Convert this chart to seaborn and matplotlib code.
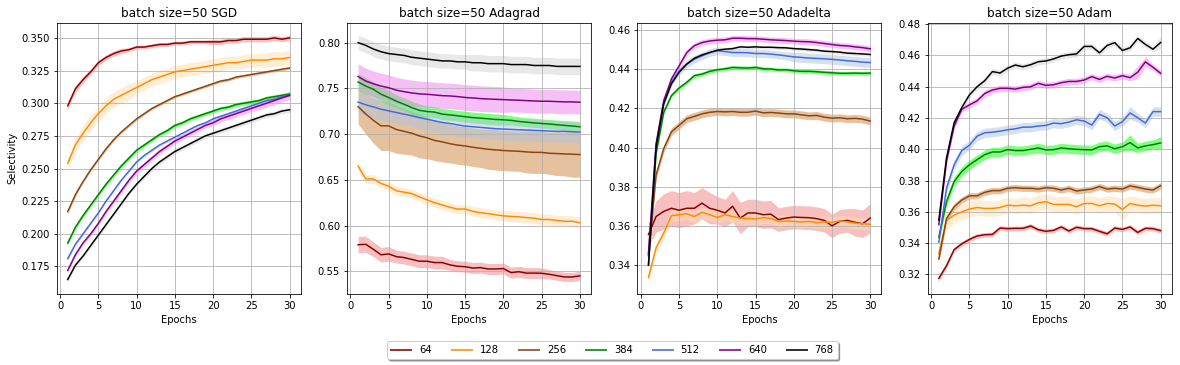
import numpy as np
import pandas as pd
import seaborn as sns
import matplotlib.pyplot as plt
from matplotlib.lines import Line2D

epochs = list(range(1, 31))
batch_labels = ["64", "128", "256", "384", "512", "640", "768"]
optimizers = ["SGD", "Adagrad", "Adadelta", "Adam"]

line_colors = ["darkred", "darkorange", "saddlebrown", "green", "royalblue", "purple", "black"]
band_colors = ["lightcoral", "navajowhite", "peru", "lime", "lightsteelblue", "violet", "lightgray"]

# mean selectivity per epoch, one row per batch label
sgd_mean = [
    [0.298, 0.311, 0.318, 0.324, 0.331, 0.335, 0.338, 0.340, 0.341, 0.343, 0.343, 0.344, 0.345, 0.345, 0.346,
     0.346, 0.347, 0.347, 0.347, 0.347, 0.347, 0.348, 0.348, 0.349, 0.349, 0.349, 0.349, 0.350, 0.349, 0.350],
    [0.254, 0.268, 0.277, 0.285, 0.292, 0.298, 0.303, 0.306, 0.309, 0.312, 0.315, 0.318, 0.320, 0.322, 0.324,
     0.325, 0.326, 0.327, 0.328, 0.329, 0.330, 0.331, 0.331, 0.332, 0.333, 0.333, 0.333, 0.334, 0.334, 0.335],
    [0.217, 0.230, 0.240, 0.249, 0.257, 0.265, 0.272, 0.278, 0.283, 0.288, 0.292, 0.296, 0.299, 0.302, 0.305,
     0.307, 0.309, 0.311, 0.313, 0.315, 0.317, 0.318, 0.320, 0.321, 0.322, 0.323, 0.324, 0.325, 0.326, 0.327],
    [0.193, 0.205, 0.214, 0.222, 0.230, 0.238, 0.245, 0.252, 0.258, 0.264, 0.268, 0.272, 0.276, 0.279, 0.283,
     0.285, 0.288, 0.290, 0.292, 0.294, 0.296, 0.297, 0.299, 0.300, 0.301, 0.302, 0.304, 0.305, 0.306, 0.307],
    [0.181, 0.192, 0.200, 0.208, 0.216, 0.225, 0.233, 0.241, 0.248, 0.255, 0.260, 0.264, 0.268, 0.271, 0.274,
     0.277, 0.280, 0.283, 0.285, 0.288, 0.290, 0.292, 0.294, 0.296, 0.298, 0.300, 0.302, 0.303, 0.305, 0.306],
    [0.172, 0.184, 0.193, 0.200, 0.208, 0.217, 0.225, 0.233, 0.241, 0.248, 0.253, 0.258, 0.263, 0.267, 0.271,
     0.274, 0.277, 0.280, 0.283, 0.285, 0.288, 0.290, 0.292, 0.294, 0.296, 0.298, 0.300, 0.302, 0.304, 0.306],
    [0.165, 0.176, 0.183, 0.191, 0.199, 0.207, 0.215, 0.223, 0.231, 0.238, 0.244, 0.250, 0.255, 0.259, 0.263,
     0.266, 0.269, 0.272, 0.275, 0.277, 0.279, 0.281, 0.283, 0.285, 0.287, 0.289, 0.291, 0.292, 0.294, 0.295],
]
# half width of the shaded band
sgd_band = [
    [0.0025, 0.0025, 0.0025, 0.002, 0.002, 0.002, 0.002, 0.002, 0.0015, 0.0015, 0.0015, 0.0015, 0.0015, 0.0015, 0.0015,
     0.0015, 0.0015, 0.0015, 0.0015, 0.002, 0.002, 0.002, 0.002, 0.002, 0.002, 0.002, 0.002, 0.002, 0.002, 0.002],
    [0.004, 0.005, 0.006, 0.006, 0.006, 0.006, 0.006, 0.006, 0.006, 0.005, 0.005, 0.005, 0.005, 0.005, 0.005,
     0.005, 0.005, 0.005, 0.005, 0.005, 0.005, 0.005, 0.005, 0.005, 0.005, 0.005, 0.0055, 0.0055, 0.0055, 0.0055],
    [0.0015, 0.0015, 0.001, 0.001, 0.001, 0.001, 0.001, 0.001, 0.001, 0.001, 0.001, 0.001, 0.001, 0.001, 0.001,
     0.001, 0.001, 0.001, 0.001, 0.001, 0.001, 0.001, 0.001, 0.001, 0.001, 0.001, 0.001, 0.001, 0.001, 0.001],
    [0.0015, 0.0015, 0.0015, 0.0015, 0.0015, 0.0015, 0.0015, 0.0015, 0.0015, 0.0015, 0.0015, 0.0015, 0.0015, 0.0015, 0.0015,
     0.0015, 0.0015, 0.0015, 0.0015, 0.0015, 0.0015, 0.0015, 0.0015, 0.0015, 0.0015, 0.0015, 0.0015, 0.0015, 0.0015, 0.0015],
    [0.001, 0.001, 0.001, 0.001, 0.001, 0.001, 0.001, 0.001, 0.001, 0.001, 0.001, 0.001, 0.001, 0.001, 0.001,
     0.001, 0.001, 0.001, 0.001, 0.001, 0.001, 0.001, 0.001, 0.001, 0.001, 0.001, 0.001, 0.001, 0.001, 0.001],
    [0.0015, 0.0015, 0.0015, 0.0015, 0.0015, 0.002, 0.002, 0.002, 0.002, 0.002, 0.002, 0.002, 0.002, 0.002, 0.002,
     0.002, 0.002, 0.002, 0.002, 0.002, 0.0025, 0.0025, 0.0025, 0.0025, 0.0025, 0.003, 0.003, 0.003, 0.003, 0.003],
    [0.0015, 0.0015, 0.0015, 0.0015, 0.0015, 0.0015, 0.0015, 0.0015, 0.0015, 0.0015, 0.002, 0.002, 0.002, 0.002, 0.002,
     0.002, 0.002, 0.002, 0.002, 0.002, 0.002, 0.002, 0.002, 0.002, 0.002, 0.002, 0.002, 0.002, 0.002, 0.002],
]

adagrad_mean = [
    [0.579, 0.5795, 0.574, 0.568, 0.569, 0.566, 0.565, 0.563, 0.561, 0.561, 0.5595, 0.5595, 0.557, 0.5555, 0.555,
     0.5535, 0.554, 0.5525, 0.5525, 0.553, 0.5485, 0.5495, 0.548, 0.548, 0.5478, 0.5467, 0.5452, 0.5438, 0.5438, 0.545],
    [0.665, 0.651, 0.651, 0.646, 0.643, 0.638, 0.6365, 0.635, 0.6315, 0.628, 0.625, 0.6225, 0.620, 0.618, 0.618,
     0.6155, 0.614, 0.613, 0.6117, 0.6106, 0.610, 0.6095, 0.6087, 0.608, 0.6066, 0.6066, 0.6055, 0.6047, 0.6047, 0.603],
    [0.730, 0.722, 0.715, 0.709, 0.709, 0.705, 0.703, 0.701, 0.698, 0.696, 0.693, 0.6915, 0.6895, 0.688, 0.687,
     0.6856, 0.6845, 0.6834, 0.6827, 0.682, 0.6816, 0.6812, 0.6805, 0.680, 0.680, 0.679, 0.6787, 0.6783, 0.678, 0.6776],
    [0.757, 0.7525, 0.749, 0.7435, 0.740, 0.736, 0.7326, 0.729, 0.726, 0.7247, 0.724, 0.7218, 0.721, 0.720, 0.719,
     0.718, 0.7174, 0.7167, 0.716, 0.7156, 0.715, 0.7138, 0.713, 0.7123, 0.7116, 0.711, 0.7102, 0.7095, 0.7088, 0.708],
    [0.735, 0.732, 0.7297, 0.7272, 0.7254, 0.7236, 0.7218, 0.720, 0.718, 0.7163, 0.7145, 0.7127, 0.7116, 0.7101, 0.7087,
     0.708, 0.7073, 0.7066, 0.7058, 0.7055, 0.7051, 0.7047, 0.7044, 0.704, 0.7037, 0.7033, 0.703, 0.703, 0.7026, 0.7022],
    [0.763, 0.758, 0.755, 0.7525, 0.7507, 0.748, 0.7464, 0.745, 0.744, 0.7435, 0.7428, 0.742, 0.7417, 0.741, 0.740,
     0.7395, 0.7388, 0.7384, 0.738, 0.7377, 0.7373, 0.737, 0.7366, 0.7362, 0.7359, 0.7359, 0.7355, 0.7352, 0.7352, 0.7348],
    [0.800, 0.797, 0.793, 0.790, 0.788, 0.787, 0.786, 0.784, 0.783, 0.782, 0.781, 0.780, 0.780, 0.779, 0.779,
     0.778, 0.778, 0.777, 0.777, 0.777, 0.776, 0.776, 0.776, 0.775, 0.775, 0.775, 0.774, 0.774, 0.774, 0.774],
]
adagrad_band = [
    [0.009, 0.009, 0.008, 0.008, 0.008, 0.007, 0.007, 0.007, 0.007, 0.007, 0.007, 0.007, 0.006, 0.006, 0.006,
     0.006, 0.006, 0.006, 0.006, 0.006, 0.006, 0.006, 0.006, 0.006, 0.006, 0.005, 0.005, 0.005, 0.005, 0.005],
    [0.005, 0.005, 0.005, 0.005, 0.005, 0.005, 0.005, 0.005, 0.005, 0.005, 0.005, 0.005, 0.005, 0.005, 0.005,
     0.0055, 0.0055, 0.0055, 0.0055, 0.006, 0.006, 0.006, 0.006, 0.006, 0.006, 0.006, 0.006, 0.006, 0.006, 0.006],
    [0.019, 0.022, 0.025, 0.027, 0.027, 0.026, 0.025, 0.024, 0.024, 0.023, 0.022, 0.022, 0.021, 0.021, 0.021,
     0.021, 0.021, 0.022, 0.022, 0.022, 0.022, 0.022, 0.023, 0.023, 0.023, 0.023, 0.024, 0.024, 0.025, 0.025],
    [0.009, 0.009, 0.008, 0.008, 0.008, 0.007, 0.007, 0.007, 0.007, 0.006, 0.006, 0.006, 0.006, 0.006, 0.006,
     0.006, 0.006, 0.006, 0.006, 0.006, 0.005, 0.005, 0.005, 0.005, 0.005, 0.005, 0.005, 0.005, 0.005, 0.005],
    [0.012, 0.012, 0.012, 0.012, 0.012, 0.012, 0.012, 0.012, 0.012, 0.012, 0.012, 0.012, 0.012, 0.012, 0.012,
     0.012, 0.012, 0.012, 0.012, 0.012, 0.012, 0.012, 0.012, 0.012, 0.012, 0.012, 0.012, 0.012, 0.012, 0.012],
    [0.014, 0.014, 0.014, 0.014, 0.014, 0.014, 0.014, 0.014, 0.014, 0.014, 0.014, 0.014, 0.014, 0.014, 0.014,
     0.014, 0.014, 0.014, 0.014, 0.014, 0.013, 0.013, 0.013, 0.013, 0.013, 0.013, 0.013, 0.013, 0.013, 0.013],
    [0.008, 0.008, 0.008, 0.008, 0.008, 0.008, 0.008, 0.008, 0.008, 0.008, 0.008, 0.008, 0.008, 0.008, 0.008,
     0.009, 0.009, 0.009, 0.009, 0.009, 0.009, 0.009, 0.009, 0.009, 0.009, 0.009, 0.009, 0.009, 0.009, 0.009],
]

adadelta_mean = [
    [0.3556, 0.3648, 0.3674, 0.369, 0.368, 0.369, 0.369, 0.3716, 0.369, 0.368, 0.3666, 0.370, 0.364, 0.3666, 0.3666,
     0.3657, 0.366, 0.3632, 0.364, 0.3645, 0.3643, 0.3642, 0.3637, 0.3628, 0.360, 0.3623, 0.3628, 0.3618, 0.3611, 0.364],
    [0.3336, 0.3488, 0.3564, 0.3652, 0.3657, 0.3662, 0.3648, 0.3669, 0.3657, 0.3643, 0.3657, 0.3648, 0.364, 0.3638, 0.3635,
     0.3642, 0.3638, 0.3623, 0.3625, 0.3623, 0.362, 0.3623, 0.3616, 0.362, 0.3618, 0.3625, 0.3621, 0.3614, 0.3611, 0.3608],
    [0.345, 0.386, 0.3995, 0.408, 0.4113, 0.4147, 0.4159, 0.4172, 0.418, 0.4184, 0.4182, 0.4184, 0.418, 0.418, 0.4186,
     0.4177, 0.4179, 0.4176, 0.4172, 0.4172, 0.4167, 0.4162, 0.4164, 0.4155, 0.415, 0.4152, 0.4147, 0.4149, 0.4145, 0.4135],
    [0.340, 0.397, 0.418, 0.4265, 0.4304, 0.4333, 0.4367, 0.4375, 0.4389, 0.4397, 0.4402, 0.4409, 0.4407, 0.4406, 0.4409,
     0.4402, 0.4401, 0.4396, 0.4397, 0.4392, 0.4389, 0.4389, 0.4387, 0.4384, 0.4382, 0.4379, 0.4379, 0.438, 0.4379, 0.438],
    [0.3446, 0.4012, 0.4232, 0.4333, 0.4389, 0.4426, 0.4451, 0.4468, 0.4485, 0.4494, 0.449, 0.4485, 0.4485, 0.4484, 0.448,
     0.448, 0.4477, 0.4473, 0.4468, 0.4463, 0.446, 0.4457, 0.4455, 0.4453, 0.445, 0.4447, 0.4443, 0.444, 0.4436, 0.4434],
    [0.346, 0.402, 0.424, 0.435, 0.4417, 0.4485, 0.452, 0.4536, 0.4544, 0.4548, 0.455, 0.4558, 0.4558, 0.4556, 0.4556,
     0.4553, 0.455, 0.4548, 0.4546, 0.4543, 0.4541, 0.454, 0.4536, 0.4531, 0.4526, 0.4521, 0.4519, 0.4514, 0.451, 0.4504],
    [0.340, 0.4003, 0.4223, 0.4325, 0.4384, 0.4426, 0.4456, 0.4473, 0.4485, 0.4497, 0.4502, 0.4505, 0.4514, 0.4512, 0.4514,
     0.4512, 0.4512, 0.451, 0.4509, 0.4505, 0.4503, 0.450, 0.4497, 0.4492, 0.449, 0.4487, 0.4482, 0.448, 0.4478, 0.4475],
]
adadelta_band = [
    [0.006, 0.008, 0.009, 0.009, 0.009, 0.009, 0.008, 0.008, 0.008, 0.007, 0.007, 0.008, 0.008, 0.007, 0.007,
     0.007, 0.007, 0.006, 0.006, 0.006, 0.006, 0.006, 0.006, 0.006, 0.006, 0.006, 0.006, 0.007, 0.007, 0.0075],
    [0.002, 0.003, 0.003, 0.003, 0.003, 0.003, 0.003, 0.003, 0.003, 0.003, 0.003, 0.003, 0.003, 0.003, 0.003,
     0.003, 0.003, 0.003, 0.003, 0.003, 0.003, 0.003, 0.003, 0.003, 0.003, 0.003, 0.003, 0.003, 0.003, 0.003],
    [0.002, 0.002, 0.002, 0.002, 0.002, 0.002, 0.002, 0.002, 0.002, 0.002, 0.002, 0.002, 0.002, 0.002, 0.002,
     0.002, 0.002, 0.002, 0.002, 0.002, 0.002, 0.002, 0.002, 0.002, 0.002, 0.002, 0.002, 0.002, 0.002, 0.002],
    [0.001, 0.001, 0.001, 0.001, 0.001, 0.001, 0.001, 0.001, 0.001, 0.001, 0.001, 0.001, 0.001, 0.001, 0.001,
     0.001, 0.001, 0.001, 0.001, 0.001, 0.001, 0.001, 0.001, 0.001, 0.001, 0.001, 0.001, 0.001, 0.001, 0.001],
    [0.002, 0.002, 0.002, 0.002, 0.002, 0.002, 0.002, 0.002, 0.002, 0.002, 0.002, 0.002, 0.002, 0.002, 0.002,
     0.002, 0.002, 0.002, 0.002, 0.0025, 0.0025, 0.0025, 0.0025, 0.0025, 0.0025, 0.0025, 0.0025, 0.0025, 0.0025, 0.0025],
    [0.0015, 0.0015, 0.0015, 0.0015, 0.0015, 0.0015, 0.0015, 0.0015, 0.0015, 0.0015, 0.0015, 0.0015, 0.0015, 0.0015, 0.0015,
     0.0015, 0.0015, 0.0015, 0.0015, 0.0015, 0.0015, 0.0015, 0.0015, 0.0015, 0.0015, 0.0015, 0.0015, 0.0015, 0.0015, 0.0015],
    [0.001, 0.001, 0.001, 0.001, 0.001, 0.001, 0.001, 0.001, 0.001, 0.001, 0.001, 0.001, 0.001, 0.001, 0.001,
     0.001, 0.001, 0.001, 0.001, 0.001, 0.001, 0.001, 0.001, 0.001, 0.001, 0.001, 0.001, 0.001, 0.001, 0.001],
]

adam_mean = [
    [0.3175, 0.3256, 0.3359, 0.3396, 0.3424, 0.3446, 0.3454, 0.3456, 0.3497, 0.3493, 0.3495, 0.3495, 0.351, 0.3486, 0.3476,
     0.3482, 0.3504, 0.3478, 0.3502, 0.3493, 0.3493, 0.3476, 0.346, 0.3497, 0.3488, 0.3504, 0.3469, 0.3495, 0.3493, 0.348],
    [0.3332, 0.3547, 0.3579, 0.360, 0.3618, 0.3628, 0.3622, 0.3622, 0.3628, 0.3643, 0.3639, 0.3643, 0.3639, 0.3658, 0.3665,
     0.3648, 0.3648, 0.3648, 0.3633, 0.3654, 0.3654, 0.3639, 0.3654, 0.365, 0.3616, 0.3654, 0.3643, 0.3637, 0.3643, 0.3639],
    [0.3299, 0.3557, 0.3633, 0.3676, 0.3703, 0.3703, 0.3725, 0.3736, 0.3736, 0.3751, 0.3755, 0.3751, 0.3751, 0.3746, 0.3755,
     0.3751, 0.374, 0.3751, 0.3734, 0.374, 0.3746, 0.3762, 0.3746, 0.3751, 0.3746, 0.3766, 0.3757, 0.3746, 0.374, 0.3768],
    [0.3439, 0.3665, 0.3794, 0.3858, 0.3901, 0.3934, 0.3966, 0.3983, 0.3983, 0.3998, 0.3992, 0.3992, 0.400, 0.4009, 0.3996,
     0.3998, 0.4009, 0.4004, 0.400, 0.3998, 0.3996, 0.4017, 0.4022, 0.4004, 0.4017, 0.4043, 0.4009, 0.4022, 0.403, 0.4041],
    [0.3407, 0.3751, 0.3901, 0.3992, 0.4026, 0.4084, 0.4106, 0.411, 0.4116, 0.4125, 0.4131, 0.4142, 0.4142, 0.4149, 0.4153,
     0.4168, 0.4164, 0.4174, 0.4189, 0.4181, 0.4155, 0.4224, 0.4202, 0.4149, 0.4177, 0.4233, 0.4202, 0.4168, 0.4241, 0.4241],
    [0.3519, 0.3923, 0.4149, 0.4256, 0.4284, 0.431, 0.4357, 0.4379, 0.439, 0.439, 0.4385, 0.4396, 0.440, 0.4422, 0.4409,
     0.4413, 0.4426, 0.4434, 0.4434, 0.4443, 0.4465, 0.4447, 0.4467, 0.4456, 0.4471, 0.4458, 0.4493, 0.4559, 0.4525, 0.4486],
    [0.3547, 0.3944, 0.417, 0.4267, 0.4348, 0.440, 0.4439, 0.4497, 0.4488, 0.4519, 0.4539, 0.4528, 0.4541, 0.456, 0.4565,
     0.4578, 0.4596, 0.4605, 0.461, 0.4658, 0.4658, 0.4617, 0.4664, 0.4682, 0.4632, 0.4649, 0.4709, 0.4671, 0.464, 0.4683],
]
adam_band = [
    [0.002, 0.0015, 0.0015, 0.0015, 0.0015, 0.0015, 0.0015, 0.0015, 0.0015, 0.0015, 0.0015, 0.0015, 0.0015, 0.0015, 0.0015,
     0.0015, 0.0015, 0.0015, 0.0015, 0.0015, 0.0015, 0.0015, 0.0015, 0.0015, 0.0015, 0.0015, 0.0015, 0.0015, 0.0015, 0.0015],
    [0.004, 0.006, 0.005, 0.005, 0.005, 0.005, 0.005, 0.005, 0.005, 0.005, 0.005, 0.005, 0.005, 0.005, 0.005,
     0.005, 0.005, 0.005, 0.005, 0.005, 0.005, 0.005, 0.005, 0.005, 0.007, 0.005, 0.005, 0.005, 0.005, 0.005],
    [0.002, 0.002, 0.002, 0.002, 0.002, 0.002, 0.002, 0.002, 0.002, 0.002, 0.002, 0.002, 0.002, 0.002, 0.002,
     0.002, 0.002, 0.002, 0.002, 0.002, 0.002, 0.002, 0.002, 0.002, 0.002, 0.002, 0.002, 0.002, 0.002, 0.002],
    [0.003, 0.003, 0.003, 0.003, 0.003, 0.003, 0.003, 0.003, 0.003, 0.003, 0.003, 0.003, 0.003, 0.003, 0.003,
     0.003, 0.003, 0.003, 0.003, 0.003, 0.003, 0.003, 0.003, 0.003, 0.003, 0.005, 0.003, 0.003, 0.003, 0.004],
    [0.003, 0.003, 0.003, 0.003, 0.003, 0.003, 0.003, 0.003, 0.003, 0.003, 0.003, 0.003, 0.003, 0.003, 0.003,
     0.003, 0.003, 0.003, 0.003, 0.003, 0.003, 0.003, 0.003, 0.003, 0.003, 0.004, 0.003, 0.003, 0.003, 0.003],
    [0.002, 0.002, 0.002, 0.002, 0.002, 0.002, 0.002, 0.002, 0.002, 0.002, 0.002, 0.002, 0.002, 0.002, 0.002,
     0.002, 0.002, 0.002, 0.002, 0.002, 0.002, 0.002, 0.002, 0.002, 0.002, 0.002, 0.004, 0.003, 0.002, 0.002],
    [0.002, 0.002, 0.002, 0.002, 0.002, 0.002, 0.002, 0.002, 0.002, 0.002, 0.002, 0.002, 0.002, 0.002, 0.002,
     0.002, 0.002, 0.002, 0.002, 0.002, 0.002, 0.002, 0.002, 0.002, 0.002, 0.002, 0.002, 0.002, 0.002, 0.004],
]

panels = [(sgd_mean, sgd_band), (adagrad_mean, adagrad_band),
          (adadelta_mean, adadelta_band), (adam_mean, adam_band)]

palette = dict(zip(batch_labels, line_colors))

# drawn at 72 dpi like a notebook figure, so text is 10 px tall
fig, axes = plt.subplots(1, 4, figsize=(1180 / 72, 365 / 72), dpi=72)
fig.subplots_adjust(left=0.048, right=0.993, top=0.937, bottom=0.195, wspace=0.19)

for ax, opt, (means, bands) in zip(axes, optimizers, panels):
    rows = []
    for lab, m in zip(batch_labels, means):
        for ep, v in zip(epochs, m):
            rows.append({"Epochs": ep, "Selectivity": v, "batch": lab})
    df = pd.DataFrame(rows)

    for lab, m, b, fc in zip(batch_labels, means, bands, band_colors):
        m = np.array(m)
        b = np.array(b)
        ax.fill_between(epochs, m - b, m + b, color=fc, alpha=0.5, linewidth=0)

    sns.lineplot(data=df, x="Epochs", y="Selectivity", hue="batch", palette=palette,
                 hue_order=batch_labels, errorbar=None, legend=False, linewidth=1.5, ax=ax)
    ax.set_title(f"batch size=50 {opt}")
    ax.set_xticks([0, 5, 10, 15, 20, 25, 30])
    ax.grid(True)
    if ax is not axes[0]:
        ax.set_ylabel("")

handles = [Line2D([0], [0], color=c, lw=2, alpha=0.8) for c in line_colors]
fig.legend(handles, batch_labels, loc="center", bbox_to_anchor=(0.519, 0.041), ncol=7,
           shadow=True, fancybox=True)

plt.savefig("out.png", dpi=72)
